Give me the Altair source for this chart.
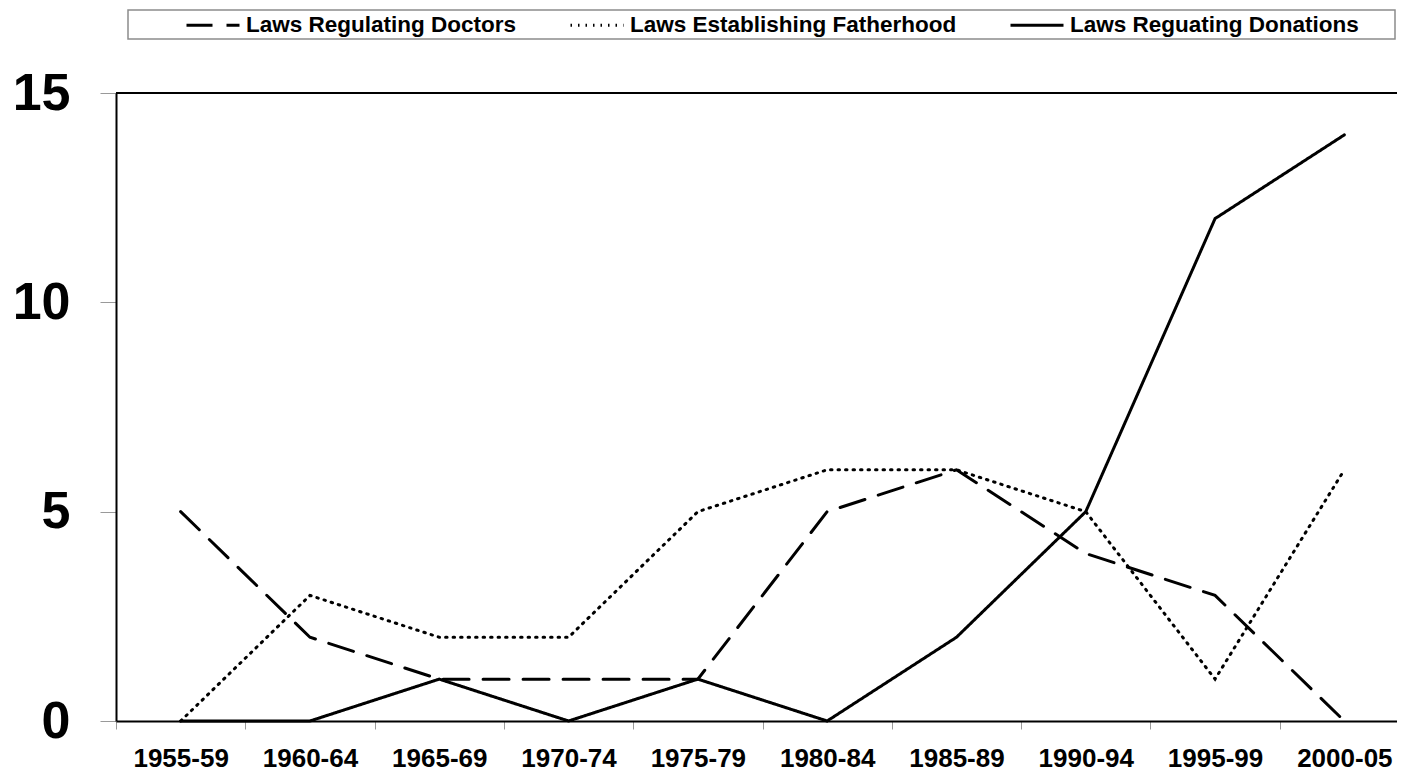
import altair as alt
import pandas as pd

periods = ["1955-59", "1960-64", "1965-69", "1970-74", "1975-79",
           "1980-84", "1985-89", "1990-94", "1995-99", "2000-05"]
series_names = ["Laws Regulating Doctors", "Laws Establishing Fatherhood", "Laws Reguating Donations"]
doctors = [5, 2, 1, 1, 1, 5, 6, 4, 3, 0]
fatherhood = [0, 3, 2, 2, 5, 6, 6, 5, 1, 6]
donations = [0, 0, 1, 0, 1, 0, 2, 5, 12, 14]
y_ticks = [0, 5, 10, 15]

rows = []
for name, vals in zip(series_names, [doctors, fatherhood, donations]):
    for p, v in zip(periods, vals):
        rows.append({"period": p, "series": name, "value": v})
df = pd.DataFrame(rows)

FONT = "Liberation Sans"
one = pd.DataFrame({"a": [0]})

frame = alt.Chart(one).mark_rect(
    fill="white", stroke="#8c8c8c", strokeWidth=1.5
).encode(
    x=alt.value(12), x2=alt.value(1279), y=alt.value(-83), y2=alt.value(-54)
)

top_border = alt.Chart(one).mark_rule(color="black", strokeWidth=2).encode(
    x=alt.value(0), x2=alt.value(1293), y=alt.value(0)
)

lines = alt.Chart(df).mark_line(strokeWidth=3, strokeCap="round", color="black").encode(
    x=alt.X("period:N", sort=periods,
            scale=alt.Scale(paddingInner=0, paddingOuter=0, range=[0, 1293]),
            axis=alt.Axis(title=None, labelAngle=0, labelFont=FONT, labelFontSize=26,
                          labelFontWeight="bold", labelColor="black", labelPadding=16,
                          tickBand="extent", tickSize=8, tickColor="#999999", tickWidth=1,
                          domainColor="black", domainWidth=2)),
    y=alt.Y("value:Q", scale=alt.Scale(domain=[0, 15], nice=False),
            axis=alt.Axis(title=None, values=y_ticks, grid=False, labelFont=FONT,
                          labelFontSize=52, labelFontWeight="bold", labelColor="black",
                          labelPadding=30, tickSize=16, tickColor="#999999", tickWidth=1,
                          domainColor="black", domainWidth=2)),
    strokeDash=alt.StrokeDash("series:N",
                              scale=alt.Scale(domain=series_names,
                                              range=[[26, 14], [1.5, 6], [1, 0]]),
                              legend=alt.Legend(title=None, orient="none", legendX=69,
                                                legendY=-96, direction="horizontal",
                                                symbolType="stroke", symbolSize=2809,
                                                symbolStrokeWidth=3, symbolStrokeColor="black",
                                                labelFont=FONT, labelFontSize=22.5,
                                                labelFontWeight="bold", labelColor="black",
                                                labelLimit=0, columnPadding=47,
                                                labelOffset=5, padding=0)),
    detail="series:N",
)

chart = alt.layer(frame, top_border, lines).properties(
    width=1281, height=628,
    autosize=alt.AutoSizeParams(type="none"),
    padding={"left": 108, "top": 85, "right": 0, "bottom": 50},
).configure_view(stroke=None)

chart.save("out.html", embed_options={"renderer": "svg", "actions": False})
